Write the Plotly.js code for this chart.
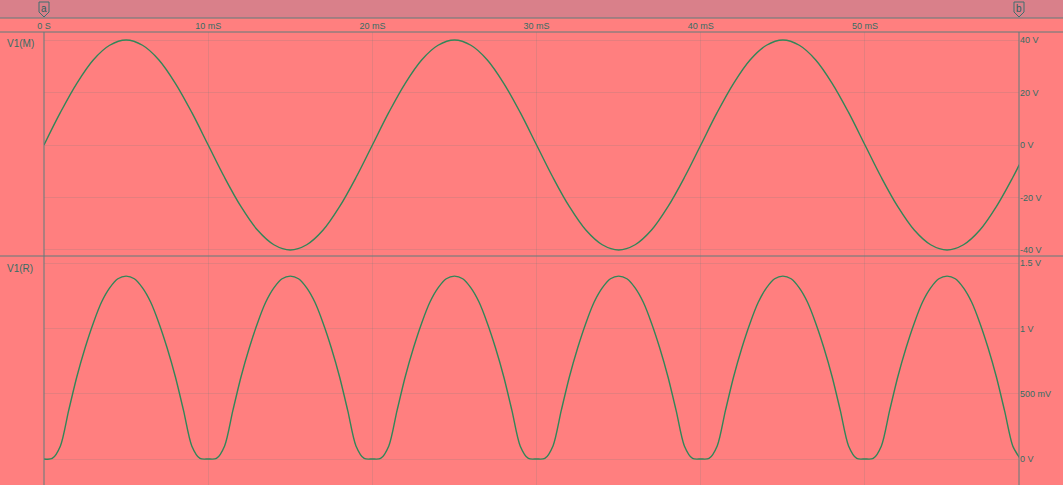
<!DOCTYPE html>
<html>
<head>
<meta charset="utf-8">
<script src="https://cdn.plot.ly/plotly-3.0.1.min.js"></script>
<style>html,body{margin:0;padding:0;background:#ff7f7f;}#chart{width:1063px;height:485px;}</style>
</head>
<body>
<div id="chart"></div>
<script>
// Time axis (ms)
const timeTopMs = [0,1,2,3,4,5,6,7,8,9,10,11,12,13,14,15,16,17,18,19,
  20,21,22,23,24,25,26,27,28,29,30,31,32,33,34,35,36,37,38,39,
  40,41,42,43,44,45,46,47,48,49,50,51,52,53,54,55,56,57,58,59,59.4];
// V1(M) values in volts
const v1M = [0,12.4,23.5,32.4,38,40,38,32.4,23.5,12.4,0,-12.4,-23.5,-32.4,-38,-40,-38,-32.4,-23.5,-12.4,
  0,12.4,23.5,32.4,38,40,38,32.4,23.5,12.4,0,-12.4,-23.5,-32.4,-38,-40,-38,-32.4,-23.5,-12.4,
  0,12.4,23.5,32.4,38,40,38,32.4,23.5,12.4,0,-12.4,-23.5,-32.4,-38,-40,-38,-32.4,-23.5,-12.4,-7.5];

const timeBotMs = [0,0.5,1,1.5,2,2.5,3,3.5,4,4.5,5,5.5,6,6.5,7,7.5,8,8.5,9,9.5,
  10,10.5,11,11.5,12,12.5,13,13.5,14,14.5,15,15.5,16,16.5,17,17.5,18,18.5,19,19.5,
  20,20.5,21,21.5,22,22.5,23,23.5,24,24.5,25,25.5,26,26.5,27,27.5,28,28.5,29,29.5,
  30,30.5,31,31.5,32,32.5,33,33.5,34,34.5,35,35.5,36,36.5,37,37.5,38,38.5,39,39.5,
  40,40.5,41,41.5,42,42.5,43,43.5,44,44.5,45,45.5,46,46.5,47,47.5,48,48.5,49,49.5,
  50,50.5,51,51.5,52,52.5,53,53.5,54,54.5,55,55.5,56,56.5,57,57.5,58,58.5,59,59.4];
// V1(R) values in volts
const v1R = [0,0.004,0.1,0.37,0.63,0.85,1.04,1.2,1.31,1.38,1.4,1.38,1.31,1.2,1.04,0.85,0.63,0.37,0.1,0.004,
  0,0.004,0.1,0.37,0.63,0.85,1.04,1.2,1.31,1.38,1.4,1.38,1.31,1.2,1.04,0.85,0.63,0.37,0.1,0.004,
  0,0.004,0.1,0.37,0.63,0.85,1.04,1.2,1.31,1.38,1.4,1.38,1.31,1.2,1.04,0.85,0.63,0.37,0.1,0.004,
  0,0.004,0.1,0.37,0.63,0.85,1.04,1.2,1.31,1.38,1.4,1.38,1.31,1.2,1.04,0.85,0.63,0.37,0.1,0.004,
  0,0.004,0.1,0.37,0.63,0.85,1.04,1.2,1.31,1.38,1.4,1.38,1.31,1.2,1.04,0.85,0.63,0.37,0.1,0.004,
  0,0.004,0.1,0.37,0.63,0.85,1.04,1.2,1.31,1.38,1.4,1.38,1.31,1.2,1.04,0.85,0.63,0.37,0.1,0.012];

const xTickVals = [0,10,20,30,40,50];
const xTickText = ['0 S','10 mS','20 mS','30 mS','40 mS','50 mS'];
const yTopTickVals = [-40,-20,0,20,40];
const yTopTickText = ['-40 V','-20 V','0 V','20 V','40 V'];
const yBotTickVals = [0,0.5,1,1.5];
const yBotTickText = ['0 V','500 mV','1 V','1.5 V'];
const seriesNames = ['V1(M)','V1(R)'];
const cursorLabels = ['a','b'];

const traceColor = '#318658';
const textColor = '#356d64';
const lineColor = '#5f7c7c';
const gridColor = 'rgba(110,120,120,0.18)';
const bg = '#ff7f7f';
const stripBg = '#d9808a';

const traces = [
  {x: timeTopMs, y: v1M, type:'scatter', mode:'lines', name: seriesNames[0],
   line:{color:traceColor, width:1.4, shape:'spline', smoothing:1}, xaxis:'x', yaxis:'y', hoverinfo:'skip'},
  {x: timeBotMs, y: v1R, type:'scatter', mode:'lines', name: seriesNames[1],
   line:{color:traceColor, width:1.4, shape:'spline', smoothing:0.8}, xaxis:'x2', yaxis:'y2', hoverinfo:'skip'}
];

const W = 1063, H = 485, L = 44, R = 44, T = 32;
const pw = W - L - R;
const ph = H - T;
const px = v => (v - L) / pw;         // pixel x -> paper x
const py = v => (H - v) / ph;         // pixel y -> paper y (plot area spans y=32..485)

const splitY = py(256);
const axFont = {family:'Liberation Sans, Arial, sans-serif', size:9, color:textColor};

function shield(cx){
  const w = 5 / pw;
  return {type:'path', xref:'paper', yref:'paper',
    path:`M ${cx-w},${py(2)} L ${cx+w},${py(2)} L ${cx+w},${py(12)} L ${cx},${py(17)} L ${cx-w},${py(12)} Z`,
    line:{color:'#3e6e6e', width:1}, fillcolor:stripBg};
}

const layout = {
  width: W, height: H,
  margin:{l:L, r:R, t:T, b:0, pad:0},
  paper_bgcolor: bg, plot_bgcolor: bg,
  showlegend:false,
  xaxis:{range:[0,59.38], side:'top', anchor:'y', tickvals:xTickVals, ticktext:xTickText,
    showgrid:true, gridcolor:gridColor, gridwidth:1, zeroline:false, showline:false, ticks:'',
    tickfont:axFont, fixedrange:true},
  xaxis2:{range:[0,59.38], anchor:'y2', matches:'x', tickvals:xTickVals, showticklabels:false,
    showgrid:true, gridcolor:gridColor, gridwidth:1, zeroline:false, showline:false, ticks:''},
  yaxis:{domain:[splitY, 1], range:[-42.29,43.05], side:'right', anchor:'x',
    tickvals:yTopTickVals, ticktext:yTopTickText, showgrid:true, gridcolor:gridColor,
    zeroline:false, showline:false, ticks:'', tickfont:axFont},
  yaxis2:{domain:[0, splitY], range:[-0.199,1.554], side:'right', anchor:'x2',
    tickvals:yBotTickVals, ticktext:yBotTickText, showgrid:true, gridcolor:gridColor,
    zeroline:false, showline:false, ticks:'', tickfont:axFont},
  shapes:[
    {type:'rect', xref:'paper', yref:'paper', x0:px(0), x1:px(W), y0:py(18), y1:py(0),
      fillcolor:stripBg, line:{width:0}, layer:'below'},
    {type:'line', xref:'paper', yref:'paper', x0:px(0), x1:px(W), y0:py(18), y1:py(18), line:{color:lineColor, width:1}},
    {type:'line', xref:'paper', yref:'paper', x0:px(0), x1:px(W), y0:py(32), y1:py(32), line:{color:lineColor, width:1}},
    {type:'line', xref:'paper', yref:'paper', x0:px(0), x1:px(W), y0:splitY, y1:splitY, line:{color:lineColor, width:1}},
    {type:'line', xref:'paper', yref:'paper', x0:0, x1:0, y0:0, y1:1, line:{color:lineColor, width:1}},
    {type:'line', xref:'paper', yref:'paper', x0:1, x1:1, y0:0, y1:1, line:{color:lineColor, width:1}},
    shield(0), shield(1)
  ],
  annotations:[
    {xref:'paper', yref:'paper', x:0, y:py(8.5), text:cursorLabels[0], showarrow:false,
      font:{family:'Liberation Sans, Arial, sans-serif', size:10, color:'#2e5e5e'}, xanchor:'center', yanchor:'middle'},
    {xref:'paper', yref:'paper', x:1, y:py(8.5), text:cursorLabels[1], showarrow:false,
      font:{family:'Liberation Sans, Arial, sans-serif', size:10, color:'#2e5e5e'}, xanchor:'center', yanchor:'middle'},
    {xref:'paper', yref:'paper', x:px(5), y:py(43), text:seriesNames[0], showarrow:false,
      font:{family:'Liberation Sans, Arial, sans-serif', size:10, color:textColor}, xanchor:'left', yanchor:'middle'},
    {xref:'paper', yref:'paper', x:px(5), y:py(268), text:seriesNames[1], showarrow:false,
      font:{family:'Liberation Sans, Arial, sans-serif', size:10, color:textColor}, xanchor:'left', yanchor:'middle'}
  ]
};

Plotly.newPlot('chart', traces, layout, {staticPlot:true, displayModeBar:false});
</script>
</body>
</html>
